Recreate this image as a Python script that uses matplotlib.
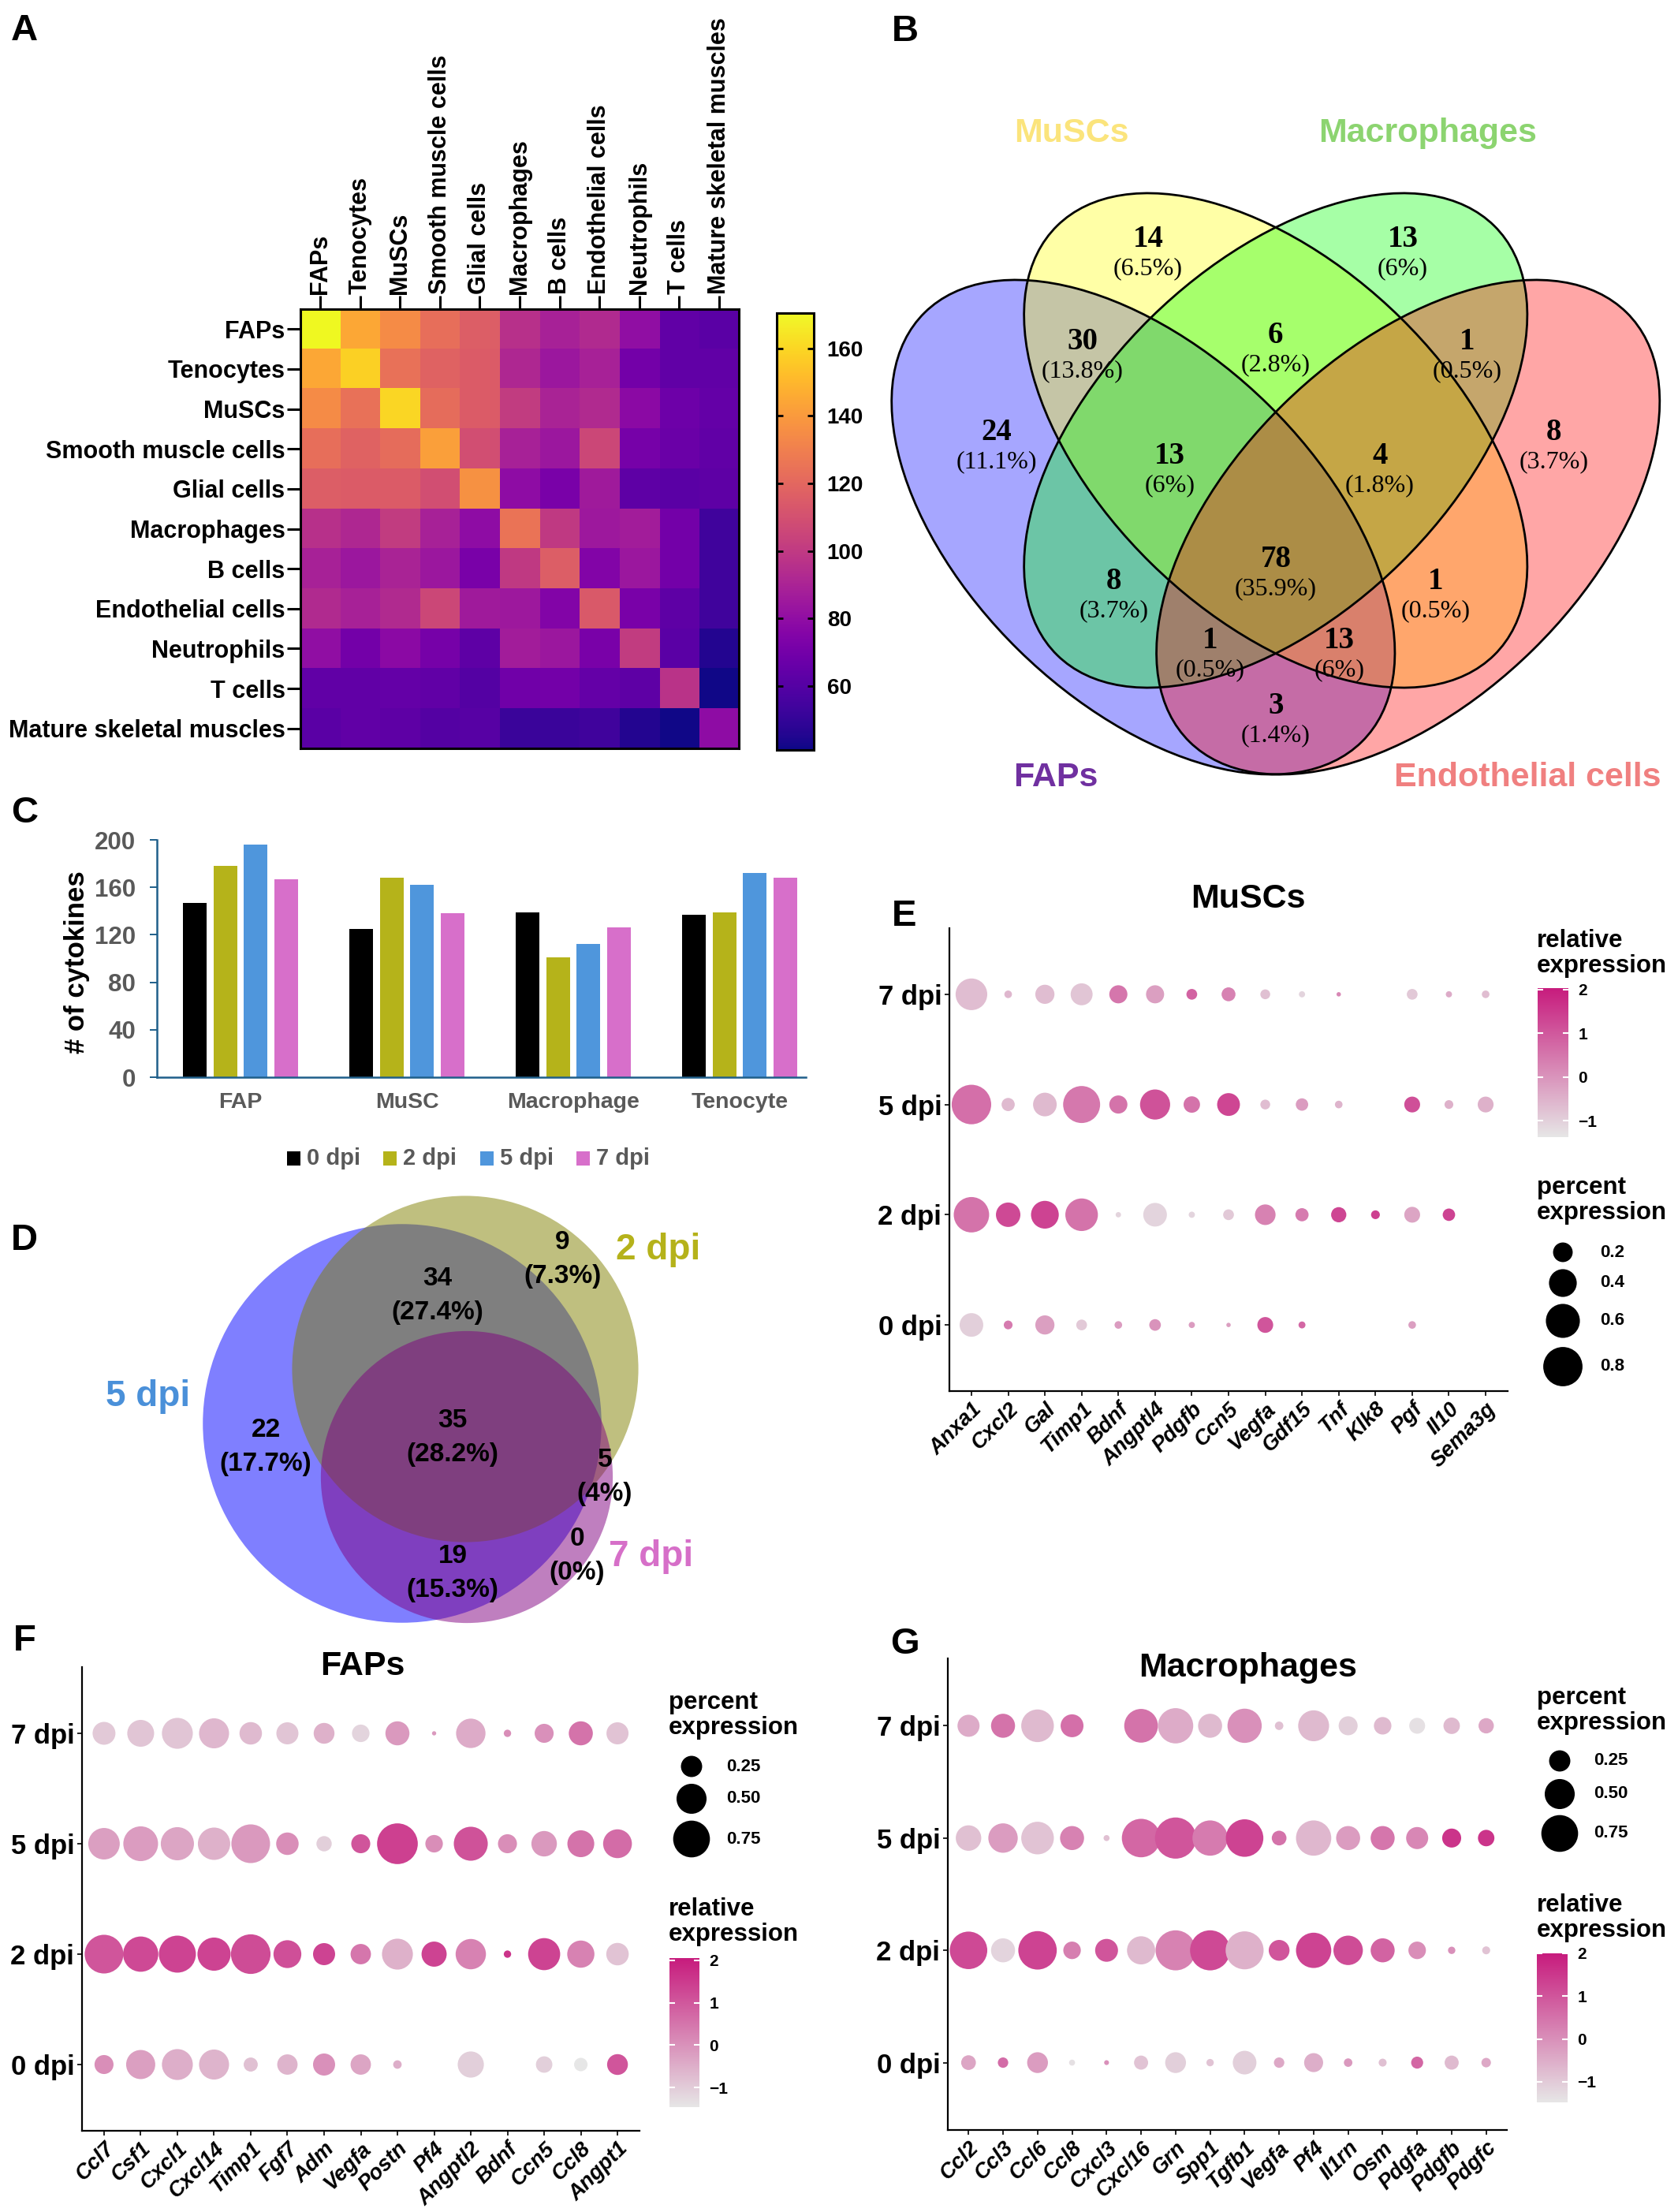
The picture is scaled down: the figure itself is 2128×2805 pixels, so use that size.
import numpy as np
import matplotlib
matplotlib.use('Agg')
import matplotlib.pyplot as plt
from matplotlib.patches import Ellipse, Circle, Rectangle
from matplotlib.colors import LinearSegmentedColormap, Normalize
from matplotlib.cm import ScalarMappable

W, H = 2128, 2805
plt.rcParams['font.family'] = ['Liberation Sans', 'DejaVu Sans']
SERIF = 'Liberation Serif'
nan = np.nan

# ---------------- data ----------------
# A: cytokine similarity between cell types
cell_types = ['FAPs', 'Tenocytes', 'MuSCs', 'Smooth muscle cells', 'Glial cells',
              'Macrophages', 'B cells', 'Endothelial cells', 'Neutrophils', 'T cells',
              'Mature skeletal muscles']
similarity = [
    [170, 145, 135, 123, 116, 96, 89, 93, 80, 64, 62],
    [145, 158, 124, 118, 115, 92, 84, 89, 70, 64, 64],
    [135, 124, 160, 122, 115, 101, 90, 93, 78, 68, 65],
    [123, 118, 122, 142, 109, 89, 84, 106, 71, 67, 64],
    [116, 115, 115, 109, 137, 79, 72, 86, 63, 62, 63],
    [96, 92, 101, 89, 79, 125, 100, 85, 87, 70, 54],
    [89, 84, 90, 84, 72, 100, 116, 75, 84, 70, 54],
    [93, 89, 93, 106, 86, 85, 75, 114, 72, 63, 54],
    [80, 70, 78, 71, 63, 87, 84, 72, 101, 62, 46],
    [64, 64, 65, 64, 60, 69, 70, 65, 63, 97, 42],
    [62, 64, 63, 60, 61, 52, 52, 54, 46, 42, 79],
]

# B: four-set venn (FAPs, MuSCs, Macrophages, Endothelial cells)
venn4_sets = ['FAPs', 'MuSCs', 'Macrophages', 'Endothelial cells']
venn4_regions = ['M', 'Ma', 'FM', 'MMa', 'MaE', 'F', 'FMMa', 'MMaE', 'E',
                 'FMa', 'FMMaE', 'ME', 'FMaE', 'FME', 'FE']
venn4_counts = [14, 13, 30, 6, 1, 24, 13, 4, 8, 8, 78, 1, 1, 13, 3]

# C: number of cytokines per cell type and day
bar_groups = ['FAP', 'MuSC', 'Macrophage', 'Tenocyte']
bar_days = ['0 dpi', '2 dpi', '5 dpi', '7 dpi']
cyt_0dpi = [147, 125, 139, 137]
cyt_2dpi = [178, 168, 101, 139]
cyt_5dpi = [196, 162, 112, 172]
cyt_7dpi = [167, 138, 126, 168]

# D: three-set venn
venn3_sets = ['5 dpi', '2 dpi', '7 dpi']
venn3_regions = [('5 dpi',), ('5 dpi', '2 dpi'), ('2 dpi',), ('5 dpi', '2 dpi', '7 dpi'),
                 ('2 dpi', '7 dpi'), ('7 dpi',), ('5 dpi', '7 dpi')]
venn3_counts = [22, 34, 9, 35, 5, 0, 19]

dpi_rows = ['0 dpi', '2 dpi', '5 dpi', '7 dpi']

# E: MuSCs
musc_genes = ['Anxa1', 'Cxcl2', 'Gal', 'Timp1', 'Bdnf', 'Angptl4', 'Pdgfb', 'Ccn5',
              'Vegfa', 'Gdf15', 'Tnf', 'Klk8', 'Pgf', 'Il10', 'Sema3g']
musc_pct = [
    [0.29, 0.04, 0.19, 0.06, 0.03, 0.07, 0.02, 0.01, 0.13, 0.025, nan, nan, 0.03, nan, nan],
    [0.65, 0.31, 0.40, 0.55, 0.015, 0.29, 0.02, 0.06, 0.22, 0.09, 0.12, 0.04, 0.13, 0.08, nan],
    [0.81, 0.09, 0.29, 0.71, 0.17, 0.47, 0.14, 0.27, 0.05, 0.08, 0.03, nan, 0.13, 0.04, 0.13],
    [0.52, 0.03, 0.19, 0.25, 0.17, 0.17, 0.06, 0.10, 0.05, 0.02, 0.01, nan, 0.06, 0.02, 0.03],
]
musc_expr = [
    [-1.0, 0.4, -0.2, -0.9, -0.15, 0.0, -0.15, -0.2, 1.05, 0.75, nan, nan, -0.2, nan, nan],
    [0.55, 1.25, 1.35, 0.55, -1.1, -1.1, -1.1, -0.9, 0.3, 0.4, 1.3, 1.4, -0.3, 1.35, nan],
    [0.6, -0.65, -0.65, 0.45, 0.55, 1.1, 0.55, 1.3, -0.7, -0.15, -0.55, nan, 1.15, -0.5, -0.5],
    [-0.7, -0.6, -0.7, -0.85, 0.5, -0.2, 0.8, 0.3, -0.75, -1.1, 0.2, nan, -0.9, -0.4, -0.7],
]

# F: FAPs
fap_genes = ['Ccl7', 'Csf1', 'Cxcl1', 'Cxcl14', 'Timp1', 'Fgf7', 'Adm', 'Vegfa', 'Postn',
             'Pf4', 'Angptl2', 'Bdnf', 'Ccn5', 'Ccl8', 'Angpt1']
fap_pct = [
    [0.20, 0.47, 0.53, 0.50, 0.11, 0.23, 0.27, 0.23, 0.04, nan, 0.38, nan, 0.15, 0.10, 0.24],
    [0.83, 0.69, 0.76, 0.61, 0.87, 0.43, 0.27, 0.23, 0.53, 0.35, 0.51, 0.03, 0.57, 0.41, 0.28],
    [0.55, 0.67, 0.61, 0.58, 0.83, 0.28, 0.13, 0.20, 0.92, 0.17, 0.64, 0.20, 0.36, 0.40, 0.46],
    [0.29, 0.40, 0.53, 0.50, 0.28, 0.27, 0.24, 0.17, 0.32, 0.01, 0.48, 0.03, 0.20, 0.32, 0.27],
]
fap_expr = [
    [0.1, -0.2, -0.45, -0.55, -0.75, -0.55, 0.05, -0.3, -0.45, nan, -1.0, nan, -1.0, -1.4, 1.05],
    [1.05, 1.25, 1.35, 1.35, 1.2, 1.15, 1.35, 0.5, -0.5, 1.35, 0.3, 1.6, 1.35, 0.3, -0.8],
    [-0.2, -0.15, -0.3, -0.5, -0.1, 0.1, -1.0, 1.05, 1.4, 0.1, 1.1, 0.1, -0.1, 0.55, 0.65],
    [-0.9, -0.85, -0.85, -0.6, -0.65, -0.85, -0.5, -1.1, -0.1, -0.1, -0.4, 0.1, 0.05, 0.55, -0.8],
]

# G: Macrophages
mac_genes = ['Ccl2', 'Ccl3', 'Ccl6', 'Ccl8', 'Cxcl3', 'Cxcl16', 'Grn', 'Spp1', 'Tgfb1',
             'Vegfa', 'Pf4', 'Il1rn', 'Osm', 'Pdgfa', 'Pdgfb', 'Pdgfc']
mac_pct = [
    [0.12, 0.06, 0.24, 0.02, 0.013, 0.11, 0.24, 0.03, 0.31, 0.06, 0.20, 0.04, 0.035, 0.08, 0.11, 0.05],
    [0.78, 0.32, 0.82, 0.17, 0.29, 0.44, 0.89, 0.89, 0.80, 0.24, 0.69, 0.48, 0.32, 0.17, 0.03, 0.035],
    [0.36, 0.48, 0.59, 0.32, 0.02, 0.82, 0.94, 0.69, 0.78, 0.12, 0.69, 0.32, 0.32, 0.27, 0.20, 0.15],
    [0.27, 0.32, 0.59, 0.29, nan, 0.63, 0.69, 0.32, 0.65, 0.04, 0.53, 0.20, 0.17, 0.14, 0.15, 0.13],
]
mac_expr = [
    [-0.3, 0.65, -0.15, -1.3, 0.05, -0.8, -1.0, -0.8, -1.0, -0.35, -0.45, -0.1, -0.75, 0.75, -0.65, -0.35],
    [1.25, -1.1, 1.35, 0.35, 1.05, -0.65, 0.3, 1.25, -0.5, 1.05, 1.35, 1.2, 0.8, 0.1, 0.05, -0.8],
    [-0.75, -0.15, -0.8, 0.3, -0.75, 0.75, 1.05, 0.4, 1.35, 0.55, -0.6, -0.15, 0.5, 0.2, 1.6, 1.6],
    [-0.4, 0.55, -0.65, 0.6, nan, 0.55, -0.4, -0.65, 0.05, -0.75, -0.65, -1.0, -0.65, -1.3, -0.65, -0.35],
]

# ---------------- helpers ----------------
fig = plt.figure(figsize=(W / 100, H / 100), dpi=100)


def px_axes(x0, y0, x1, y1):
    # axes from a pixel box (y measured from the top)
    return fig.add_axes([x0 / W, 1 - y1 / H, (x1 - x0) / W, (y1 - y0) / H])


def bold_ticks(ax, axis='y'):
    labels = ax.get_yticklabels() if axis == 'y' else ax.get_xticklabels()
    for t in labels:
        t.set_fontweight('bold')


pink = LinearSegmentedColormap.from_list('pink', ['#e6e6e6', '#c71b7d'])


def dot_area(p, k):
    # dot diameter in px is sqrt(k * p); scatter wants points squared
    return k * np.asarray(p) * 0.72 ** 2


def dotplot(box, genes, pct, expr, k, vlim):
    ax = px_axes(*box)
    xs = np.arange(len(genes))
    for i, (prow, erow) in enumerate(zip(pct, expr)):
        p = np.array(prow, float)
        e = np.array(erow, float)
        ok = ~np.isnan(p)
        ax.scatter(xs[ok], np.full(ok.sum(), i), s=dot_area(p[ok], k), c=e[ok],
                   cmap=pink, vmin=vlim[0], vmax=vlim[1], edgecolors='none', zorder=3)
    ax.set_xlim(-0.6, len(genes) - 0.4)
    ax.set_ylim(-0.6, len(dpi_rows) - 0.4)
    ax.set_xticks(xs)
    ax.set_xticklabels(genes, rotation=45, ha='right', rotation_mode='anchor',
                       fontsize=19.5, fontweight='bold', fontstyle='italic')
    ax.set_yticks(range(len(dpi_rows)))
    ax.set_yticklabels(dpi_rows, fontsize=25, fontweight='bold')
    for s in ['top', 'right']:
        ax.spines[s].set_visible(False)
    for s in ['left', 'bottom']:
        ax.spines[s].set_linewidth(1.6)
    ax.tick_params(length=4, width=1.2, pad=3)
    ax.set_facecolor('none')
    return ax


def colorbar_px(box, vlim):
    cax = px_axes(*box)
    cb = fig.colorbar(ScalarMappable(Normalize(*vlim), pink), cax=cax, ticks=[-1, 0, 1, 2])
    cb.outline.set_visible(False)
    cax.tick_params(direction='in', length=5, width=1.5, color='white', left=True,
                    right=True, labelsize=15, pad=9)
    cax.set_yticklabels(['\u22121', '0', '1', '2'])
    bold_ticks(cax)
    return cax


# ---------------- A: heatmap ----------------
axa = px_axes(381, 392, 937, 949)
im = axa.imshow(np.array(similarity), cmap='plasma', vmin=41, vmax=170.5,
                aspect='auto', interpolation='nearest')
axa.set_xticks(range(len(cell_types)))
axa.set_xticklabels(cell_types, rotation=90, fontsize=22, fontweight='bold')
axa.set_yticks(range(len(cell_types)))
axa.set_yticklabels(cell_types, fontsize=22, fontweight='bold')
axa.xaxis.tick_top()
axa.tick_params(length=12, width=2.2, pad=2)
for s in axa.spines.values():
    s.set_linewidth(2.2)

caxa = px_axes(985, 397, 1032, 951)
cba = fig.colorbar(im, cax=caxa, ticks=range(60, 161, 20))
cba.outline.set_linewidth(2.2)
caxa.tick_params(direction='in', length=6, width=2, left=True, right=True,
                 labelsize=20, pad=12)
bold_ticks(caxa)

# ---------------- B: four-set venn ----------------
# VennDiagram quad layout in unit coordinates: 1119.5 px per unit in x, 1100 in y
axb = px_axes(1058, 30, 2128, 1100)
axb.set_xlim(0, (2128 - 1058) / 1119.5)
axb.set_ylim(1 - (1100 - 85.5) / 1100, 1 + (85.5 - 30) / 1100)
axb.axis('off')
ell_geom = [((0.35, 0.47), -45), ((0.50, 0.57), -45), ((0.50, 0.57), 45), ((0.65, 0.47), 45)]
ell_cols = ['#0000ff', '#ffff00', '#00ff00', '#ff0000']
for (c, ang), col in zip(ell_geom, ell_cols):
    axb.add_patch(Ellipse(c, 0.7, 0.4, angle=ang, facecolor=col, alpha=0.35, edgecolor='none'))
for c, ang in ell_geom:
    axb.add_patch(Ellipse(c, 0.7, 0.4, angle=ang, fill=False, edgecolor='black', lw=2))

venn4_xy = {'M': (0.3555, 0.802), 'Ma': (0.644, 0.802), 'FM': (0.281, 0.684),
            'MMa': (0.5, 0.691), 'MaE': (0.717, 0.684), 'F': (0.184, 0.579),
            'FMMa': (0.380, 0.552), 'MMaE': (0.618, 0.552), 'E': (0.815, 0.579),
            'FMa': (0.317, 0.407), 'FMMaE': (0.5, 0.433), 'ME': (0.681, 0.407),
            'FMaE': (0.426, 0.339), 'FME': (0.572, 0.339), 'FE': (0.5, 0.264)}
tot4 = sum(venn4_counts)
for reg, n in zip(venn4_regions, venn4_counts):
    x, y = venn4_xy[reg]
    axb.text(x, y, str(n), ha='center', va='center', family=SERIF, fontsize=28,
             fontweight='bold')
    axb.text(x, y - 0.034, '(%g%%)' % round(100 * n / tot4, 1), ha='center', va='center',
             family=SERIF, fontsize=23)
venn4_label_xy = [(0.251, 0.181), (0.269, 0.924), (0.672, 0.924), (0.785, 0.181)]
venn4_label_cols = ['#7030a0', '#fbe47c', '#8cd470', '#f08080']
for name, (x, y), col in zip(venn4_sets, venn4_label_xy, venn4_label_cols):
    axb.text(x, y, name, ha='center', va='center', fontsize=31, fontweight='bold', color=col)

# ---------------- C: bar chart ----------------
axc = px_axes(199, 1065, 1022, 1366)
bar_vals = [cyt_0dpi, cyt_2dpi, cyt_5dpi, cyt_7dpi]
bar_cols = ['#000000', '#b5b31a', '#4f96dc', '#d76fca']
xg = np.arange(len(bar_groups))
step, width = 38.5 / 211, 30 / 211
for j, (vals, col) in enumerate(zip(bar_vals, bar_cols)):
    axc.bar(xg + (j - 1.5) * step, vals, width=width, color=col, zorder=2)
axc.set_xlim(-0.502, 3.398)
axc.set_ylim(0, 200)
axc.set_yticks(range(0, 201, 40))
axc.set_xticks(xg)
axc.set_xticklabels(bar_groups)
axis_col = '#1f5f8a'
for s in ['top', 'right']:
    axc.spines[s].set_visible(False)
for s in ['left', 'bottom']:
    axc.spines[s].set_color(axis_col)
    axc.spines[s].set_linewidth(1.8)
axc.tick_params(axis='y', length=6.5, width=1.4, color=axis_col, pad=13,
                labelcolor='#595959', labelsize=22.5)
axc.tick_params(axis='x', length=0, pad=14, labelcolor='#595959', labelsize=20.5)
for t in axc.get_xticklabels() + axc.get_yticklabels():
    t.set_fontweight('bold')
axc.set_facecolor('none')

# ---------------- E, F, G: dot plots ----------------
vlim = (-1.4, 2.03)
dotplot((1204, 1177, 1912, 1764), musc_genes, musc_pct, musc_expr, 3100, vlim)
colorbar_px((1950, 1253, 1989, 1442), (-1.37, 2.03))
dotplot((104, 2114, 811, 2702), fap_genes, fap_pct, fap_expr, 2900, vlim)
colorbar_px((849, 2483, 887, 2672), (-1.46, 2.05))
dotplot((1202, 2103, 1911, 2701), mac_genes, mac_pct, mac_expr, 2900, vlim)
colorbar_px((1949, 2477, 1988, 2666), (-1.48, 2.0))

# ---------------- overlay in pixel coordinates ----------------
ov = fig.add_axes([0, 0, 1, 1])
ov.set_xlim(0, W)
ov.set_ylim(H, 0)
ov.axis('off')

for lab, (x, y) in zip('ABCDEFG', [(31, 39), (1148, 40), (31, 1031), (31, 1573),
                                    (1147, 1162), (31, 2081), (1147, 2085)]):
    ov.text(x, y, lab, ha='center', va='center', fontsize=34, fontweight='bold')

# C: y label and legend
ov.text(98, 1220, '# of cytokines', rotation=90, ha='center', va='center',
        fontsize=25, fontweight='bold')
for day, col, x in zip(bar_days, bar_cols, [364, 486, 609, 731]):
    ov.add_patch(Rectangle((x, 1460), 17, 18, color=col, lw=0))
    ov.text(x + 25, 1469, day, ha='left', va='center', fontsize=21,
            fontweight='bold', color='#595959')

# D: three-set venn (circle area proportional to set size)
venn3_centers = {'5 dpi': (510, 1805), '2 dpi': (590, 1736), '7 dpi': (592, 1873)}
venn3_fill = {'5 dpi': (0, 0, 1), '2 dpi': (0.5, 0.5, 0), '7 dpi': (0.5, 0, 0.5)}
for name in venn3_sets:
    size = sum(n for reg, n in zip(venn3_regions, venn3_counts) if name in reg)
    ov.add_patch(Circle(venn3_centers[name], 24.1 * np.sqrt(size),
                        facecolor=venn3_fill[name], alpha=0.5, lw=0))
venn3_xy = [(337, 1814), (555, 1622), (713, 1575), (574, 1802), (767, 1852),
            (732, 1951), (574, 1974)]
tot3 = sum(venn3_counts)
for n, (x, y) in zip(venn3_counts, venn3_xy):
    ov.text(x, y, str(n), ha='center', va='center', fontsize=24, fontweight='bold')
    ov.text(x, y + 43, '(%g%%)' % round(100 * n / tot3, 1), ha='center', va='center',
            fontsize=24, fontweight='bold')
venn3_label_xy = {'5 dpi': (188, 1771), '2 dpi': (835, 1585), '7 dpi': (826, 1974)}
venn3_label_col = {'5 dpi': '#4a90d9', '2 dpi': '#b5b21a', '7 dpi': '#d66fc8'}
for name in venn3_sets:
    x, y = venn3_label_xy[name]
    ov.text(x, y, name, ha='center', va='center', fontsize=33, fontweight='bold',
            color=venn3_label_col[name])

# dot plot titles and legend texts
for title, (x, y) in [('MuSCs', (1583, 1140)), ('FAPs', (460, 2113)),
                      ('Macrophages', (1583, 2115))]:
    ov.text(x, y, title, ha='center', va='center', fontsize=31, fontweight='bold')


def size_legend(x_title, y_title, x_dot, ys, vals, k, x_lab):
    ov.text(x_title, y_title, 'percent\nexpression', ha='left', va='center', fontsize=22.5,
            fontweight='bold', linespacing=1.05)
    ov.scatter([x_dot] * len(vals), ys, s=dot_area(vals, k), color='black', edgecolors='none')
    for v, y in zip(vals, ys):
        ov.text(x_lab, y, ('%.1f' if len(vals) == 4 else '%.2f') % v, ha='left',
                va='center', fontsize=16, fontweight='bold')


def color_title(x, y):
    ov.text(x, y, 'relative\nexpression', ha='left', va='center', fontsize=22.5,
            fontweight='bold', linespacing=1.05)


color_title(1949, 1209)
size_legend(1949, 1522, 1982, [1588, 1627, 1675, 1733], [0.2, 0.4, 0.6, 0.8], 3100, 2029)
size_legend(848, 2175, 877, [2240, 2281, 2332], [0.25, 0.5, 0.75], 2900, 921)
color_title(848, 2437)
size_legend(1949, 2169, 1978, [2233, 2275, 2325], [0.25, 0.5, 0.75], 2900, 2021)
color_title(1949, 2432)

fig.savefig('out.png', dpi=100)
